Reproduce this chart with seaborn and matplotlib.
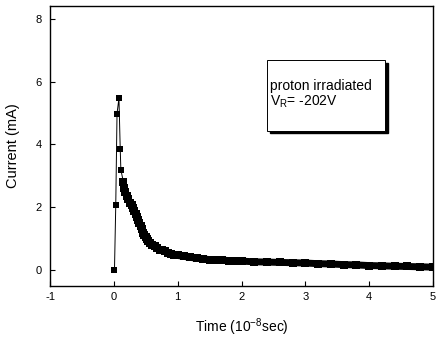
import matplotlib
matplotlib.use("Agg")
import matplotlib.pyplot as plt
import seaborn as sns
import pandas as pd
from matplotlib.patches import Rectangle

# spike (early points connected by thin line)
spike_t = [0.01, 0.03, 0.05, 0.08, 0.10, 0.11, 0.145]
spike_i = [0.0, 2.06, 4.98, 5.47, 3.87, 3.2, 2.85]

# decay (dense band)
decay_t = [0.145, 0.16, 0.18, 0.20, 0.22, 0.25, 0.28, 0.30, 0.32, 0.34, 0.36, 0.38,
           0.40, 0.42, 0.44, 0.46, 0.48, 0.50, 0.52, 0.54, 0.57, 0.60, 0.64, 0.68,
           0.72, 0.76, 0.80, 0.85, 0.90, 0.95, 1.00, 1.1, 1.2, 1.3, 1.4, 1.5,
           1.6, 1.7, 1.8, 1.9, 2.0, 2.2, 2.4, 2.6, 2.8, 3.0, 3.2, 3.4, 3.6, 3.8,
           4.0, 4.2, 4.4, 4.6, 4.8, 5.0]
decay_i = [2.80, 2.62, 2.48, 2.36, 2.27, 2.15, 2.06, 1.98, 1.88, 1.78, 1.70, 1.60,
           1.50, 1.40, 1.30, 1.20, 1.12, 1.05, 0.98, 0.93, 0.87, 0.81, 0.76, 0.70,
           0.66, 0.63, 0.60, 0.56, 0.53, 0.50, 0.47, 0.44, 0.41, 0.38, 0.36, 0.34,
           0.33, 0.32, 0.31, 0.30, 0.29, 0.27, 0.26, 0.25, 0.24, 0.23, 0.21, 0.20, 0.18, 0.17,
           0.15, 0.14, 0.13, 0.12, 0.11, 0.10]

xticks = [-1, 0, 1, 2, 3, 4, 5]
yticks = [0, 2, 4, 6, 8]

sns.set_style("ticks")
plt.rcParams['font.family'] = ['Liberation Sans', 'DejaVu Sans']
plt.rcParams['mathtext.default'] = 'regular'
plt.rcParams['axes.unicode_minus'] = False
plt.rcParams['text.color'] = 'black'
plt.rcParams['axes.labelcolor'] = 'black'
plt.rcParams['xtick.direction'] = 'in'
plt.rcParams['ytick.direction'] = 'in'

fig = plt.figure(figsize=(4.40, 3.46), dpi=100)
ax = fig.add_axes([50/440, 60/346, 383/440, 280/346])

df_s = pd.DataFrame({"t": spike_t, "i": spike_i})
df_d = pd.DataFrame({"t": decay_t, "i": decay_i})

sns.lineplot(data=df_s, x="t", y="i", ax=ax, color="black", lw=0.7, sort=False)
sns.lineplot(data=df_d, x="t", y="i", ax=ax, color="black", lw=5.0, sort=False)
sns.scatterplot(data=df_s, x="t", y="i", ax=ax, color="black", marker="s", s=24, linewidth=0)
sns.scatterplot(data=df_d, x="t", y="i", ax=ax, color="black", marker="s", s=30, linewidth=0)

ax.set_xlim(-1, 5)
ax.set_ylim(-0.5, 8.4)
ax.set_xticks(xticks)
ax.set_yticks(yticks)
ax.tick_params(labelsize=8, length=3.5, width=0.8, colors="black", pad=4)
ax.tick_params(axis="y", pad=6)
for s in ax.spines.values():
    s.set_linewidth(1.0)
    s.set_color("black")

ax.set_xlabel("Time (10$^{-8}$sec)", fontsize=10, labelpad=11)
ax.set_ylabel("Current (mA)", fontsize=10.5, labelpad=11)

# annotation box with shadow
bx, by, bw, bh = 2.4, 4.43, 1.85, 2.25
ax.add_patch(Rectangle((bx + 0.04, by - 0.08), bw, bh, facecolor="black", edgecolor="black", zorder=4))
ax.add_patch(Rectangle((bx, by), bw, bh, facecolor="white", edgecolor="black", lw=0.7, zorder=5))
ax.text(bx + 0.04, 5.85, "proton irradiated", fontsize=10, zorder=6, va="center")
ax.text(bx + 0.04, 5.35, "V$_R$= -202V", fontsize=10, zorder=6, va="center")

fig.savefig("out.png", dpi=100)
